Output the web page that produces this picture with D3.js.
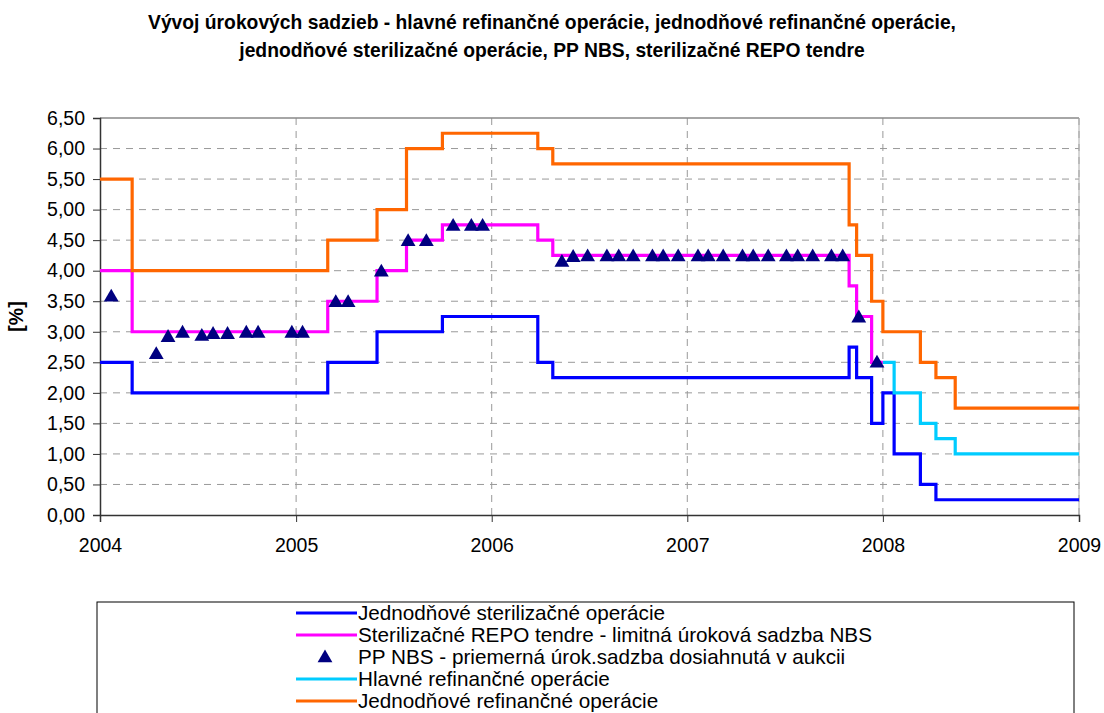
<!DOCTYPE html>
<html>
<head>
<meta charset="utf-8">
<script src="https://cdn.jsdelivr.net/npm/d3@7"></script>
<style>
  body { margin: 0; background: #fff; }
  svg { display: block; font-family: "Liberation Sans", Arial, sans-serif; }
</style>
</head>
<body>
<svg id="chart" width="1104" height="713"></svg>
<script>
// ---------- DATA ----------
const titleLines = [
  "Vývoj úrokových sadzieb - hlavné refinančné operácie, jednodňové refinančné operácie,",
  "jednodňové sterilizačné operácie, PP NBS, sterilizačné REPO tendre"
];
const yTicks = [0, 0.5, 1, 1.5, 2, 2.5, 3, 3.5, 4, 4.5, 5, 5.5, 6, 6.5];
const xTickYears = ["2004", "2005", "2006", "2007", "2008", "2009"];
const yTitle = "[%]";

// Jednodňové sterilizačné operácie
const sterDates = ["2004-01-01","2004-03-01","2005-03-01","2005-06-01","2005-10-01","2006-03-28","2006-04-25","2007-10-30","2007-11-13","2007-12-11","2008-01-01","2008-01-22","2008-03-11","2008-04-09","2009-01-01"];
const sterValues = [2.50, 2.00, 2.50, 3.00, 3.25, 2.50, 2.25, 2.75, 2.25, 1.50, 2.00, 1.00, 0.50, 0.25, 0.25];

// Sterilizačné REPO tendre - limitná úroková sadzba NBS
const repoDates = ["2004-01-01","2004-03-01","2005-03-01","2005-06-01","2005-07-26","2005-10-01","2006-03-28","2006-04-25","2007-10-30","2007-11-13","2007-12-11","2008-01-01"];
const repoValues = [4.00, 3.00, 3.50, 4.00, 4.50, 4.75, 4.50, 4.25, 3.75, 3.25, 2.50, 2.50];

// PP NBS - priemerná úrok.sadzba dosiahnutá v aukcii
const ppDates = ["2004-01-22","2004-04-15","2004-05-07","2004-06-03","2004-07-09","2004-07-30","2004-08-26","2004-09-30","2004-10-22","2004-12-24",
  "2005-01-13","2005-03-16","2005-04-08","2005-06-09","2005-07-29","2005-09-01","2005-10-21","2005-11-24","2005-12-15",
  "2006-05-12","2006-06-02","2006-06-29","2006-08-04","2006-08-26","2006-09-22","2006-10-28","2006-11-17","2006-12-15",
  "2007-01-21","2007-02-09","2007-03-09","2007-04-14","2007-05-04","2007-06-01","2007-07-05","2007-07-26","2007-08-23","2007-09-27","2007-10-18","2007-11-17","2007-12-21"];
const ppValues = [3.58, 2.64, 2.92, 2.99, 2.94, 2.97, 2.97, 2.99, 2.99, 2.99,
  2.99, 3.49, 3.49, 3.99, 4.49, 4.49, 4.74, 4.74, 4.74,
  4.15, 4.23, 4.24, 4.24, 4.24, 4.24, 4.24, 4.24, 4.24,
  4.24, 4.24, 4.24, 4.24, 4.24, 4.24, 4.24, 4.24, 4.24, 4.24, 4.24, 3.24, 2.50];

// Hlavné refinančné operácie
const mainDates = ["2008-01-01","2008-01-22","2008-03-11","2008-04-09","2008-05-15","2009-01-01"];
const mainValues = [2.50, 2.00, 1.50, 1.25, 1.00, 1.00];

// Jednodňové refinančné operácie
const refiDates = ["2004-01-01","2004-03-01","2005-03-01","2005-06-01","2005-07-26","2005-10-01","2006-03-28","2006-04-25","2007-10-30","2007-11-13","2007-12-11","2008-01-01","2008-03-11","2008-04-09","2008-05-15","2009-01-01"];
const refiValues = [5.50, 4.00, 4.50, 5.00, 6.00, 6.25, 6.00, 5.75, 4.75, 4.25, 3.50, 3.00, 2.50, 2.25, 1.75, 1.75];

const legendLabels = [
  "Jednodňové sterilizačné operácie",
  "Sterilizačné REPO tendre - limitná úroková sadzba NBS",
  "PP NBS - priemerná úrok.sadzba dosiahnutá v aukcii",
  "Hlavné refinančné operácie",
  "Jednodňové refinančné operácie"
];

// ---------- LAYOUT ----------
const svg = d3.select("#chart");
const W = 1104, H = 713;
const plot = { left: 100, right: 1079, top: 118, bottom: 515 };
const colors = { ster: "#0000FF", repo: "#FF00FF", pp: "#000080", main: "#00CCFF", refi: "#FF6600" };
const parse = d3.timeParse("%Y-%m-%d");

const x = d3.scaleTime()
  .domain([parse("2004-01-01"), parse("2009-01-01")])
  .range([plot.left, plot.right]);
const y = d3.scaleLinear().domain([0, 6.5]).range([plot.bottom, plot.top]);

svg.append("rect").attr("width", W).attr("height", H).attr("fill", "#fff");

// Title
svg.append("g").selectAll("text").data(titleLines).join("text")
  .attr("x", 552).attr("y", (d, i) => 29 + i * 28)
  .attr("text-anchor", "middle")
  .attr("font-weight", "bold").attr("font-size", 19.3)
  .attr("fill", "#000")
  .text(d => d);

// Grid
const grid = svg.append("g");
grid.selectAll("line.h").data(yTicks.filter(v => v > 0 && v < 6.5)).join("line")
  .attr("x1", plot.left).attr("x2", plot.right)
  .attr("y1", d => y(d)).attr("y2", d => y(d))
  .attr("stroke", "#999").attr("stroke-width", 1).attr("stroke-dasharray", "7,6");
grid.selectAll("line.v").data(xTickYears.slice(1)).join("line")
  .attr("x1", d => x(parse(d + "-01-01"))).attr("x2", d => x(parse(d + "-01-01")))
  .attr("y1", plot.top).attr("y2", plot.bottom)
  .attr("stroke", "#999").attr("stroke-width", 1).attr("stroke-dasharray", "7,6");
// plot frame top / right
svg.append("line").attr("x1", plot.left).attr("x2", plot.right).attr("y1", plot.top).attr("y2", plot.top)
  .attr("stroke", "#888").attr("stroke-width", 1.5);
svg.append("line").attr("x1", plot.right).attr("x2", plot.right).attr("y1", plot.top).attr("y2", plot.bottom)
  .attr("stroke", "#aaa").attr("stroke-width", 1);

// Axes
const yAxis = d3.axisLeft(y).tickValues(yTicks).tickSize(7).tickPadding(8)
  .tickFormat(d => d3.format(".2f")(d).replace(".", ","));
const gy = svg.append("g").attr("transform", `translate(${plot.left},0)`).call(yAxis);
gy.select(".domain").attr("stroke", "#333").attr("stroke-width", 1.5);
gy.selectAll(".tick line").attr("stroke", "#333");
gy.selectAll(".tick text").attr("font-size", 19.5).attr("fill", "#000")
  .attr("font-family", "'Liberation Sans', Arial, sans-serif");

const xAxis = d3.axisBottom(x).tickValues(xTickYears.map(v => parse(v + "-01-01")))
  .tickSize(7).tickPadding(16).tickFormat(d3.timeFormat("%Y"));
const gx = svg.append("g").attr("transform", `translate(0,${plot.bottom})`).call(xAxis);
gx.select(".domain").attr("stroke", "#333").attr("stroke-width", 1.5);
gx.selectAll(".tick line").attr("stroke", "#333");
gx.selectAll(".tick text").attr("font-size", 19.5).attr("fill", "#000")
  .attr("font-family", "'Liberation Sans', Arial, sans-serif");

// Y title
svg.append("text")
  .attr("transform", `translate(23,${(plot.top + plot.bottom) / 2}) rotate(-90)`)
  .attr("text-anchor", "middle").attr("font-weight", "bold").attr("font-size", 19.5)
  .text(yTitle);

// Lines
const line = d3.line().x(d => x(d[0])).y(d => y(d[1])).curve(d3.curveStepAfter);
const series = [
  { dates: sterDates, values: sterValues, color: colors.ster },
  { dates: repoDates, values: repoValues, color: colors.repo },
  { dates: mainDates, values: mainValues, color: colors.main },
  { dates: refiDates, values: refiValues, color: colors.refi }
];
const lg = svg.append("g");
series.forEach(s => {
  const pts = s.dates.map((d, i) => [parse(d), s.values[i]]);
  lg.append("path").datum(pts).attr("d", line)
    .attr("fill", "none").attr("stroke", s.color).attr("stroke-width", 3.2)
    .attr("stroke-linejoin", "miter");
});

// Triangles
const tri = d3.symbol().type(d3.symbolTriangle).size(95);
svg.append("g").selectAll("path").data(ppDates.map((d, i) => [parse(d), ppValues[i]])).join("path")
  .attr("d", tri)
  .attr("transform", d => `translate(${x(d[0])},${y(d[1]) + 1})`)
  .attr("fill", colors.pp);

// Legend
const leg = svg.append("g");
leg.append("rect").attr("x", 97).attr("y", 602).attr("width", 977).attr("height", 130)
  .attr("fill", "#fff").attr("stroke", "#000").attr("stroke-width", 1);
const legendKeys = [
  { type: "line", color: colors.ster },
  { type: "line", color: colors.repo },
  { type: "tri", color: colors.pp },
  { type: "line", color: colors.main },
  { type: "line", color: colors.refi }
];
legendLabels.forEach((lab, i) => {
  const cy = 613 + i * 22;
  const k = legendKeys[i];
  if (k.type === "line") {
    leg.append("line").attr("x1", 296).attr("x2", 357).attr("y1", cy).attr("y2", cy)
      .attr("stroke", k.color).attr("stroke-width", 3.2);
  } else {
    leg.append("path").attr("d", tri).attr("transform", `translate(325,${cy + 1})`).attr("fill", k.color);
  }
  leg.append("text").attr("x", 358).attr("y", cy).attr("dy", "0.35em")
    .attr("font-size", 20.7).attr("fill", "#000").text(lab);
});
</script>
</body>
</html>
